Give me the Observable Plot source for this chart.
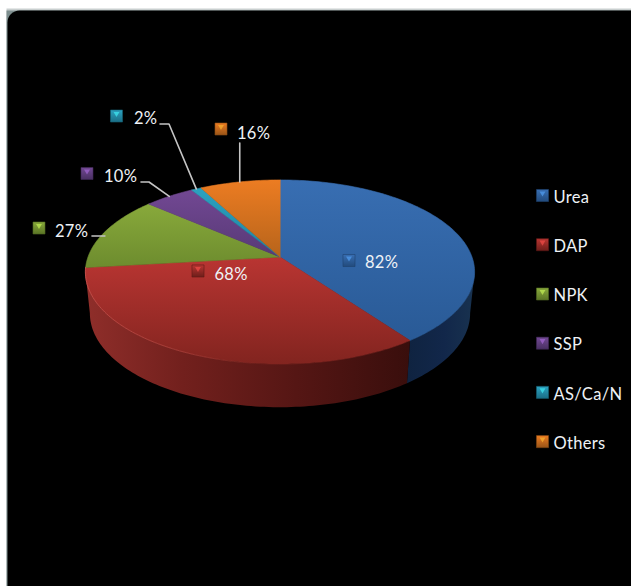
<!DOCTYPE html>
<html>
<head>
<meta charset="utf-8">
<script src="https://cdn.jsdelivr.net/npm/d3@7"></script>
<script src="https://cdn.jsdelivr.net/npm/@observablehq/plot@0.6"></script>
<style>
  html, body { margin: 0; padding: 0; background: #fff; overflow: hidden; }
</style>
</head>
<body>
<div id="chart"></div>
<script>
// Fertilizer shares
const fertilizers = ["Urea", "DAP", "NPK", "SSP", "AS/Ca/N", "Others"];
const percents = [82, 68, 27, 10, 2, 16];

// Face shading per slice, light to dark from top to bottom
const faceLight = ["#386eb2", "#b93532", "#88a93b", "#724893", "#2ca2c0", "#ec7c22"];
const faceDark = ["#295a96", "#82241f", "#6d8c2e", "#573976", "#1f84a0", "#b7641b"];

// Page layout
const W = 631, H = 586;
const centre = {x: 280, y: 257};
const lens = {a: 192, b: 89.6, p: 0.163};
const wall = {dy: 41, sx: 0.977, sy: 1.02};
const FONT = "Lato, 'Open Sans', sans-serif";

// Perspective view of the disc: angle runs clockwise from twelve o'clock
const rimPoint = (t, sx = 1, sy = 1, dy = 0) => {
  const w = 1 + lens.p * Math.cos(t);
  return {
    x: centre.x + (sx * lens.a * Math.sin(t)) / w,
    y: centre.y + dy - (sy * lens.b * Math.cos(t)) / w
  };
};
const arc = (t0, t1, sx, sy, dy) => {
  const n = Math.max(2, Math.ceil(Math.abs(t1 - t0) / 0.02));
  return d3.range(n + 1).map((i) => rimPoint(t0 + ((t1 - t0) * i) / n, sx, sy, dy));
};

const slices = d3.pie().sort(null).value((d) => d)(percents);
const rad = (deg) => (deg * Math.PI) / 180;

// Angles where the disc's outline turns away from the viewer
const silhouette = Math.acos(-lens.p);

// Gradients referenced by the fills below
function defs() {
  const d = d3.create("svg:defs");
  const gradient = (id, x2, y2, stops) => {
    const g = d.append("linearGradient").attr("id", id).attr("x1", 0).attr("y1", 0).attr("x2", x2).attr("y2", y2);
    stops.forEach(([o, c, a = 1]) => g.append("stop").attr("offset", o).attr("stop-color", c).attr("stop-opacity", a));
  };
  fertilizers.forEach((_, i) => {
    gradient(`face${i}`, 0, 1, [[0, faceLight[i]], [1, faceDark[i]]]);
    gradient(`pip${i}`, 0, 1, [[0, faceLight[i]], [1, d3.color(faceDark[i]).darker(0.5)]]);
  });
  gradient("wallRed", 1, 0, [[0, "#8f2e2a"], [0.3, "#72201d"], [0.65, "#551614"], [1, "#390e0c"]]);
  gradient("wallBlue", 1, 0, [[0, "#0f2340"], [0.55, "#12274a"], [1, "#18324f"]]);
  gradient("rimRed", 1, 0, [[0, "#d65a54", 0.7], [0.3, "#cf5650", 0.45], [0.55, "#c04a44", 0]]);
  return d.node();
}

// Card behind the chart: a thin grey edge with a rounded black panel on it
const card = [
  Plot.rect([0], {x1: 7, y1: 9, x2: W + 20, y2: H + 20, fill: "#c9cfcf"}),
  Plot.rect([0], {x1: 7, y1: 11, x2: W + 20, y2: H + 20, fill: "#7d8e8e"}),
  Plot.rect([0], {x1: 8, y1: 11, x2: W + 20, y2: H + 20, fill: "#000", rx: 12})
];

// Side walls below the near half of the rim
const walls = [
  {id: "wallBlue", from: silhouette, to: slices[0].endAngle},
  {id: "wallRed", from: slices[1].startAngle, to: 2 * Math.PI - silhouette}
].map(({id, from, to}) =>
  Plot.line(
    [...arc(from, to), ...arc(to, from, wall.sx, wall.sy, wall.dy)],
    {x: "x", y: "y", fill: `url(#${id})`, curve: "linear-closed"}
  )
);

// Upper faces, one closed shape per share
const faces = slices.map((s, i) =>
  Plot.line(
    [centre, ...arc(s.startAngle, s.endAngle)],
    {x: "x", y: "y", fill: `url(#face${i})`, stroke: `url(#face${i})`, strokeWidth: 0.6, curve: "linear-closed"}
  )
);

// Soft highlight running along the near rim of the red slice
const rims = [
  Plot.line(arc(slices[1].startAngle, slices[1].endAngle).reverse(), {x: "x", y: "y", stroke: "url(#rimRed)", strokeWidth: 1})
];

// Leader lines from the small labels to the middle of their slices
const mid = (i) => (slices[i].startAngle + slices[i].endAngle) / 2;
const npkTip = rimPoint(mid(2));
const leaders = [
  [{x: 92, y: 236}, {x: npkTip.x, y: 236}],
  [{x: 141, y: 182}, {x: 149, y: 182}, rimPoint(mid(3))],
  [{x: 160, y: 124}, {x: 169, y: 124}, rimPoint(mid(4))],
  [{x: rimPoint(mid(5)).x, y: 143}, rimPoint(mid(5))]
].map((pts) => Plot.line(pts, {x: "x", y: "y", stroke: "#c4c4c4", strokeWidth: 1.6, curve: "linear"}));

// Value labels: key square centre, then text start
const labelSpots = [
  {kx: 349, ky: 260.5, tx: 365, ty: 263},
  {kx: 198, ky: 271, tx: 214.5, ty: 275},
  {kx: 39, ky: 228, tx: 55, ty: 232},
  {kx: 87, ky: 173.5, tx: 104, ty: 177},
  {kx: 116.5, ky: 116, tx: 134, ty: 119},
  {kx: 221, ky: 129, tx: 237, ty: 134}
];
const legendRows = [195.5, 244.7, 294, 343.2, 392.4, 441.6];

const keyMarks = (x, y, i) => [
  Plot.dot([0], {x: () => x, y: () => y, symbol: "square", r: 6.8, fill: `url(#pip${i})`, stroke: d3.color(faceDark[i]).darker(0.9).formatHex(), strokeWidth: 0.6}),
  Plot.dot([0], {x: () => x, y: () => y - 2.4, symbol: "triangle", rotate: 180, r: 2.2, fill: d3.color(faceLight[i]).brighter(1.2).formatHex(), fillOpacity: 0.6})
];

const textStyle = {fill: "#eef2f6", fontSize: 16.5, fontFamily: FONT, textAnchor: "start", lineAnchor: "middle"};

const chart = Plot.plot({
  width: W,
  height: H,
  margin: 0,
  style: {background: "#fff", overflow: "hidden", letterSpacing: "0.3px"},
  x: {domain: [0, W], range: [-0.5, W - 0.5], axis: null},
  y: {domain: [0, H], range: [-0.5, H - 0.5], axis: null},
  marks: [
    defs,
    ...card,
    ...walls,
    ...faces,
    ...rims,
    ...leaders,
    ...fertilizers.flatMap((_, i) => keyMarks(labelSpots[i].kx, labelSpots[i].ky, i)),
    Plot.text(percents, {
      x: (_, i) => labelSpots[i].tx,
      y: (_, i) => labelSpots[i].ty,
      text: (v) => `${v}%`,
      ...textStyle
    }),
    ...fertilizers.flatMap((_, i) => keyMarks(542.5, legendRows[i], i)),
    Plot.text(fertilizers, {
      x: () => 553.5,
      y: (_, i) => legendRows[i] + 2,
      text: (d) => d,
      ...textStyle
    })
  ]
});
document.getElementById("chart").append(chart);
</script>
</body>
</html>
